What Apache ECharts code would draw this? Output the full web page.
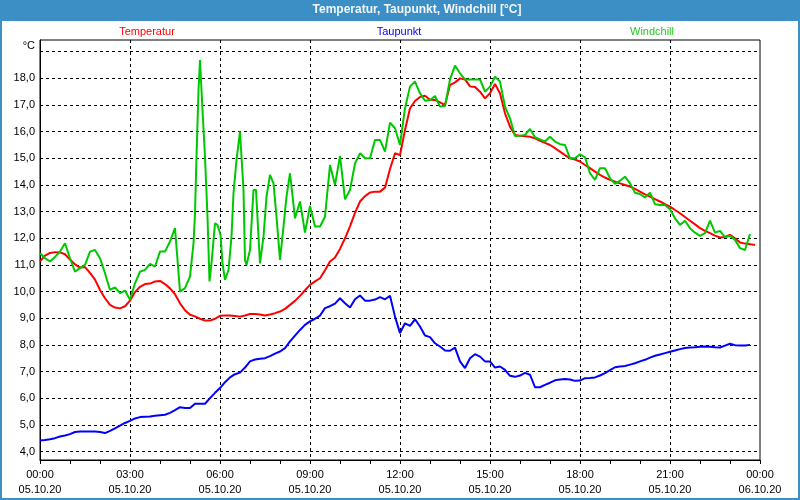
<!DOCTYPE html>
<html><head><meta charset="utf-8">
<script src="https://cdn.jsdelivr.net/npm/echarts@6/dist/echarts.min.js"></script>
<style>html,body{margin:0;padding:0;background:#fff}#c{width:800px;height:500px}</style>
</head><body><div id="c"></div>
<script>
// X tick labels (every 3 hours)
const xTickLabels = ['00:00\n05.10.20','03:00\n05.10.20','06:00\n05.10.20','09:00\n05.10.20','12:00\n05.10.20','15:00\n05.10.20','18:00\n05.10.20','21:00\n05.10.20','00:00\n06.10.20'];
const seriesNames = ['Temperatur','Taupunkt','Windchill'];

// Temperatur, 10-minute steps from 00:00
const temperatur = [
11.13,11.35,11.45,11.48,11.47,11.40,
11.2,11.02,10.9,10.92,10.7,10.45,
10.06,9.75,9.5,9.4,9.37,9.45,
9.66,9.98,10.18,10.28,10.3,10.38,
10.4,10.28,10.12,9.9,9.56,9.3,
9.13,9.07,8.98,8.91,8.91,8.98,
9.09,9.1,9.1,9.08,9.06,9.1,
9.16,9.16,9.14,9.1,9.14,9.19,
9.25,9.35,9.5,9.65,9.84,10.05,
10.25,10.38,10.5,10.8,11.13,11.28,
11.6,12.0,12.45,12.95,13.38,13.58,
13.72,13.75,13.75,13.9,14.6,15.19,
15.12,16.06,16.88,17.15,17.3,17.35,
17.2,17.19,17.1,17.0,17.75,17.85,
18.0,17.96,17.7,17.68,17.5,17.25,
17.44,17.79,17.44,16.69,16.19,15.88,
15.85,15.83,15.81,15.75,15.66,15.58,
15.5,15.38,15.25,15.12,15.0,14.95,
14.88,14.75,14.63,14.5,14.38,14.28,
14.19,14.12,14.06,14.0,13.94,13.85,
13.75,13.65,13.56,13.47,13.38,13.28,
13.19,13.06,12.94,12.8,12.66,12.52,
12.38,12.28,12.19,12.1,12.03,12.05,
12.13,12.0,11.84,11.8,11.78,11.75];

// Taupunkt, 10-minute steps from 00:00
const taupunkt = [
4.41,4.43,4.46,4.5,4.56,4.6,
4.65,4.73,4.75,4.75,4.75,4.75,
4.73,4.69,4.77,4.87,4.97,5.07,
5.15,5.24,5.29,5.3,5.31,5.34,
5.36,5.38,5.45,5.55,5.66,5.63,
5.63,5.79,5.79,5.79,6.0,6.2,
6.38,6.6,6.78,6.9,6.96,7.15,
7.38,7.45,7.48,7.5,7.58,7.67,
7.75,7.88,8.13,8.35,8.56,8.75,
8.88,8.98,9.1,9.38,9.45,9.55,
9.75,9.56,9.4,9.71,9.85,9.66,
9.66,9.7,9.79,9.71,9.84,9.06,
8.44,8.81,8.71,8.96,8.69,8.35,
8.29,8.06,7.94,7.79,7.78,7.9,
7.38,7.13,7.5,7.65,7.56,7.38,
7.38,7.15,7.19,7.06,6.84,6.8,
6.85,6.95,6.88,6.41,6.41,6.5,
6.58,6.67,6.7,6.72,6.7,6.65,
6.66,6.75,6.76,6.78,6.85,6.94,
7.05,7.16,7.19,7.21,7.26,7.31,
7.38,7.44,7.52,7.59,7.64,7.69,
7.74,7.79,7.84,7.88,7.9,7.91,
7.93,7.94,7.93,7.91,7.9,7.97,
8.04,7.99,7.98,7.98,8.0];

// Windchill: sample times (minutes after 00:00) and values
const windchillMinutes = [
0,10,20,30,40,50,60,70,80,90,100,110,120,130,140,150,160,170,180,190,200,210,220,230,240,250,260,270,
280,290,300,307,310,313,317,320,323,325,330,335,339,343,350,355,361,365,370,377,383,387,393,400,403,407,410,413,
420,427,432,437,440,447,453,460,467,473,480,487,493,500,510,520,530,540,550,560,570,580,590,600,
610,620,630,640,650,660,670,680,690,700,710,720,730,740,750,760,770,780,790,800,810,820,830,840,850,860,870,880,890,900,
910,920,930,940,950,960,970,980,990,1000,1010,1020,1030,1040,1050,1060,1070,1080,1090,1100,1110,1120,1130,1140,1150,1160,1170,1180,1190,1200,
1210,1220,1230,1240,1250,1260,1270,1280,1290,1300,1310,1320,1330,1340,1350,1360,1370,1380,1390,1400,1410,1420];
const windchill = [
11.44,11.25,11.13,11.3,11.5,11.81,11.25,10.75,10.88,11.0,11.5,11.56,11.25,10.69,10.06,10.16,9.94,10.04,9.69,10.31,10.75,10.81,11.04,10.94,11.5,11.5,11.88,12.38,
10.0,10.13,10.56,11.81,12.94,15.06,17.56,18.69,18.69,16.81,15.06,12.81,10.38,11.06,12.56,12.5,12.13,11.06,10.44,10.81,12.06,13.69,14.94,16.0,15.06,13.81,11.19,11.0,
11.56,13.81,13.81,12.06,11.06,12.06,13.56,14.38,14.06,12.81,11.19,12.44,13.56,14.44,12.75,13.38,12.21,13.21,12.44,12.44,12.81,14.75,14.0,15.09,
13.46,13.81,14.81,15.19,15.0,15.0,15.69,15.69,15.25,16.34,16.13,15.5,16.88,17.69,17.88,17.44,17.16,17.19,17.34,16.94,16.96,17.96,18.48,18.19,17.96,17.96,17.96,17.96,17.5,17.69,
18.06,17.88,16.94,16.5,15.84,15.85,15.88,16.1,15.79,15.71,15.63,15.81,15.63,15.53,15.5,15.0,15.0,15.15,15.04,14.44,14.19,14.63,14.63,14.25,14.04,14.16,14.31,14.06,13.71,13.66,
13.53,13.71,13.28,13.25,13.25,13.09,12.75,12.5,12.66,12.38,12.21,12.09,12.19,12.66,12.21,12.28,12.04,12.09,11.94,11.63,11.56,12.16];

const colors = ['#ff0000','#0000ff','#00c800'];
const step = 10;

const chart = echarts.init(document.getElementById('c'), null, {renderer:'canvas'});
const fam = 'Liberation Sans';
chart.setOption({
  animation:false,
  backgroundColor:'#ffffff',
  textStyle:{fontFamily:fam},
  graphic:[
    {type:'rect', z:-10, silent:true, shape:{x:0,y:0,width:800,height:21}, style:{fill:'#3b8fc4'}},
    {type:'rect', z:-10, silent:true, shape:{x:1,y:1,width:798,height:498}, style:{fill:null, stroke:'#3b8fc4', lineWidth:2}}
  ],
  title:[
    {text:'Temperatur, Taupunkt, Windchill [°C]', left:417, top:4, textAlign:'center', padding:0,
     textStyle:{color:'#f2f6fa', fontSize:12, fontWeight:'bold', fontFamily:fam}},
    {text:seriesNames[0], left:147, top:26, textAlign:'center', padding:0, textStyle:{color:colors[0], fontSize:11, fontWeight:'normal', fontFamily:fam}},
    {text:seriesNames[1], left:399, top:26, textAlign:'center', padding:0, textStyle:{color:colors[1], fontSize:11, fontWeight:'normal', fontFamily:fam}},
    {text:seriesNames[2], left:652, top:26, textAlign:'center', padding:0, textStyle:{color:'#22cc22', fontSize:11, fontWeight:'normal', fontFamily:fam}}
  ],
  grid:{left:40, right:40, top:40, bottom:40, show:true, borderColor:'#000', borderWidth:1, backgroundColor:'#ffffff'},
  xAxis:{
    type:'value', min:0, max:1440, interval:180,
    axisLine:{show:true, lineStyle:{color:'#000', width:1}},
    axisTick:{show:true, length:4, lineStyle:{color:'#000'}},
    minorTick:{show:true, splitNumber:3, length:4, lineStyle:{color:'#000'}},
    splitLine:{show:true, showMinLine:false, showMaxLine:false, lineStyle:{color:'#000', width:1, type:[3,3]}},
    axisLabel:{formatter:v => xTickLabels[Math.round(v/180)], color:'#000', fontSize:11, lineHeight:15, margin:7, fontFamily:fam}
  },
  yAxis:{
    type:'value', min:3.68, max:19.44, minInterval:1, maxInterval:1,
    name:'°C', nameLocation:'end', nameGap:-6,
    nameTextStyle:{color:'#000', fontSize:11, align:'right', verticalAlign:'middle', padding:[0,5,0,0], fontFamily:fam},
    axisLine:{show:true, lineStyle:{color:'#000', width:1}},
    axisTick:{show:false},
    splitLine:{show:true, showMinLine:false, showMaxLine:false, lineStyle:{color:'#000', width:1, type:[3,3]}},
    axisLabel:{
      formatter:v => (Math.abs(v - Math.round(v)) > 1e-6 || Math.round(v) === 19) ? '' : v.toFixed(1).replace('.', ','),
      color:'#000', fontSize:11, margin:5, fontFamily:fam, showMinLabel:true, showMaxLabel:true
    }
  },
  series:[
    {name:seriesNames[0], type:'line', showSymbol:false, symbol:'none', lineStyle:{color:colors[0], width:2}, itemStyle:{color:colors[0]},
     data:temperatur.map((v,i)=>[i*step, v]), z:3},
    {name:seriesNames[1], type:'line', showSymbol:false, symbol:'none', lineStyle:{color:colors[1], width:2}, itemStyle:{color:colors[1]},
     data:taupunkt.map((v,i)=>[i*step, v]), z:3},
    {name:seriesNames[2], type:'line', showSymbol:false, symbol:'none', lineStyle:{color:colors[2], width:2}, itemStyle:{color:colors[2]},
     data:windchill.map((v,i)=>[windchillMinutes[i], v]), z:4}
  ]
});
</script></body></html>
